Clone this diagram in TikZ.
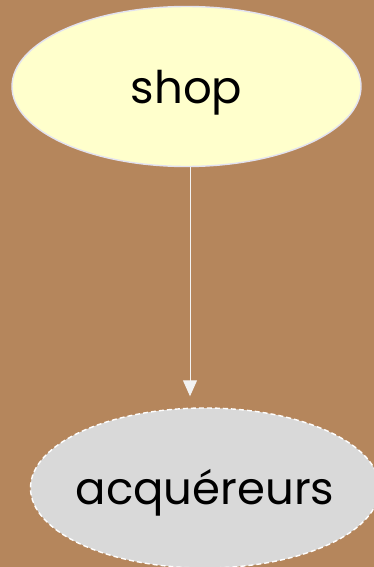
\documentclass[tikz,border=0pt]{standalone}
\usepackage{fontspec}
\setmainfont{Poppins}
\usetikzlibrary{shapes.geometric,arrows.meta}
\definecolor{bg}{HTML}{B5865C}
\definecolor{yel}{HTML}{FFFFCC}
\definecolor{edgeA}{HTML}{E2E2F0}
\definecolor{grayfill}{HTML}{D9D9D9}
\definecolor{arr}{HTML}{F2F2F2}
\tikzset{
  ell/.style={ellipse, minimum width=349pt, minimum height=160pt, inner ysep=0pt, inner xsep=-80pt, text height=33pt, text depth=0pt, line width=1.4pt, font=\fontsize{45}{50}\selectfont\color{black}},
  conn/.style={draw=arr, line width=1pt, -{Triangle[width=14pt,length=16pt]}, shorten >=11pt}
}
\begin{document}
\begin{tikzpicture}[x=1pt,y=-1pt]
\fill[bg] (0,0) rectangle (374,567);
\useasboundingbox (0,0) rectangle (374,567);
\node[ell, fill=yel, draw=edgeA] (shop) at (186.5,86.5) {shop};
\node[ell, fill=grayfill, draw=white, dashed, dash pattern=on 5pt off 3pt] (acq) at (205,488) {acquéreurs};
\draw[conn] (shop.south) ++(3.5,0) coordinate (s) -- (s |- acq.north) coordinate (e);
\end{tikzpicture}
\end{document}
